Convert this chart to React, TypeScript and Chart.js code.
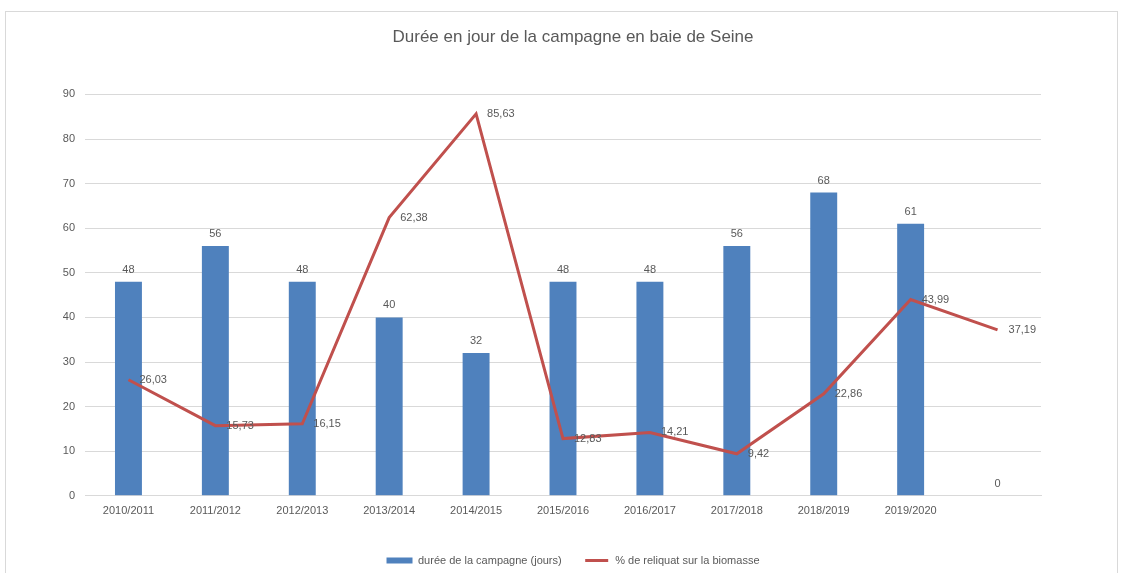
import React, { useEffect, useRef } from "react";
import { Chart, registerables } from "chart.js";

Chart.register(...registerables);

const categories = ["2010/2011", "2011/2012", "2012/2013", "2013/2014", "2014/2015", "2015/2016", "2016/2017", "2017/2018", "2018/2019", "2019/2020", ""];
const dureeCampagne = [48, 56, 48, 40, 32, 48, 48, 56, 68, 61, 0];
const reliquat = [26.03, 15.73, 16.15, 62.38, 85.63, 12.83, 14.21, 9.42, 22.86, 43.99, 37.19];
const yTicks = { min: 0, max: 90, step: 10 };

const FONT = "'Liberation Sans', Arial, sans-serif";
const TEXT = "#595959";
const BLUE = "#4F81BD";
const RED = "#C0504D";

const fmt = (v: number) => String(v).replace(".", ",");

const labelsPlugin = {
  id: "valueLabels",
  afterDatasetsDraw(chart: any) {
    const ctx = chart.ctx;
    ctx.save();
    ctx.font = `11px ${FONT}`;
    ctx.fillStyle = TEXT;
    chart.data.datasets.forEach((ds: any, di: number) => {
      const meta = chart.getDatasetMeta(di);
      meta.data.forEach((el: any, i: number) => {
        const v = ds.data[i];
        if (ds.type === "bar") {
          ctx.textAlign = "center";
          ctx.textBaseline = "middle";
          ctx.fillText(fmt(v), el.x, el.y - 12);
        } else {
          ctx.textAlign = "left";
          ctx.textBaseline = "middle";
          ctx.fillText(fmt(v), el.x + 11, el.y);
        }
      });
    });
    ctx.restore();
  },
};

export default function App() {
  const ref = useRef<HTMLCanvasElement>(null);
  useEffect(() => {
    const chart = new Chart(ref.current!, {
      type: "bar",
      data: {
        labels: categories,
        datasets: [
          {
            type: "bar",
            label: "durée de la campagne (jours)",
            data: dureeCampagne,
            backgroundColor: BLUE,
            barPercentage: 0.31,
            categoryPercentage: 1,
            order: 2,
          },
          {
            type: "line",
            label: "% de reliquat sur la biomasse",
            data: reliquat,
            borderColor: RED,
            backgroundColor: RED,
            borderWidth: 3,
            pointRadius: 0,
            tension: 0,
            order: 1,
          },
        ],
      } as any,
      options: {
        animation: false,
        responsive: false,
        maintainAspectRatio: false,
        layout: { padding: { left: 0, right: 0, top: 0, bottom: 2 } },
        plugins: {
          tooltip: { enabled: false },
          title: {
            display: true,
            text: "Durée en jour de la campagne en baie de Seine",
            color: TEXT,
            font: { family: FONT, size: 17, weight: "normal" },
            padding: { top: 27, bottom: 47 },
          },
          legend: {
            position: "bottom",
            labels: {
              color: TEXT,
              font: { family: FONT, size: 11 },
              boxWidth: 26,
              boxHeight: 6,
              padding: 22,
              generateLabels: (c: any) =>
                c.data.datasets.map((ds: any, i: number) => ({
                  text: ds.label,
                  fillStyle: i === 0 ? BLUE : RED,
                  strokeStyle: i === 0 ? BLUE : "#ffffff",
                  lineWidth: i === 0 ? 0 : 3,
                  hidden: false,
                  datasetIndex: i,
                  fontColor: TEXT,
                })),
            },
          },
        },
        scales: {
          x: {
            grid: { display: false },
            border: { display: true, color: "#d9d9d9" },
            ticks: { color: TEXT, font: { family: FONT, size: 11 }, padding: 1, maxRotation: 0 },
            afterFit: (s: any) => { s.height = s.height + 14; },
          },
          y: {
            min: yTicks.min,
            max: yTicks.max,
            grid: { color: "#d9d9d9", drawTicks: false },
            border: { display: false },
            ticks: { stepSize: yTicks.step, color: TEXT, font: { family: FONT, size: 11 }, padding: 10 },
            afterFit: (s: any) => { s.width = 61; },
          },
          yRight: {
            position: "right",
            display: true,
            grid: { display: false },
            border: { display: false },
            ticks: { display: false },
            afterFit: (s: any) => { s.width = 81; },
          },
        },
      } as any,
      plugins: [labelsPlugin],
    });
    return () => chart.destroy();
  }, []);
  return (
    <div style={{ position: "fixed", left: 0, top: 0, width: 1122, height: 573, background: "#fff", overflow: "hidden" }}>
      <div style={{ position: "absolute", left: 5, top: 11, width: 1111, height: 600, border: "1px solid #d9d9d9" }} />
      <canvas ref={ref} width={1098} height={578} style={{ position: "absolute", left: 24, top: 0, width: 1098, height: 578 }} />
    </div>
  );
}
